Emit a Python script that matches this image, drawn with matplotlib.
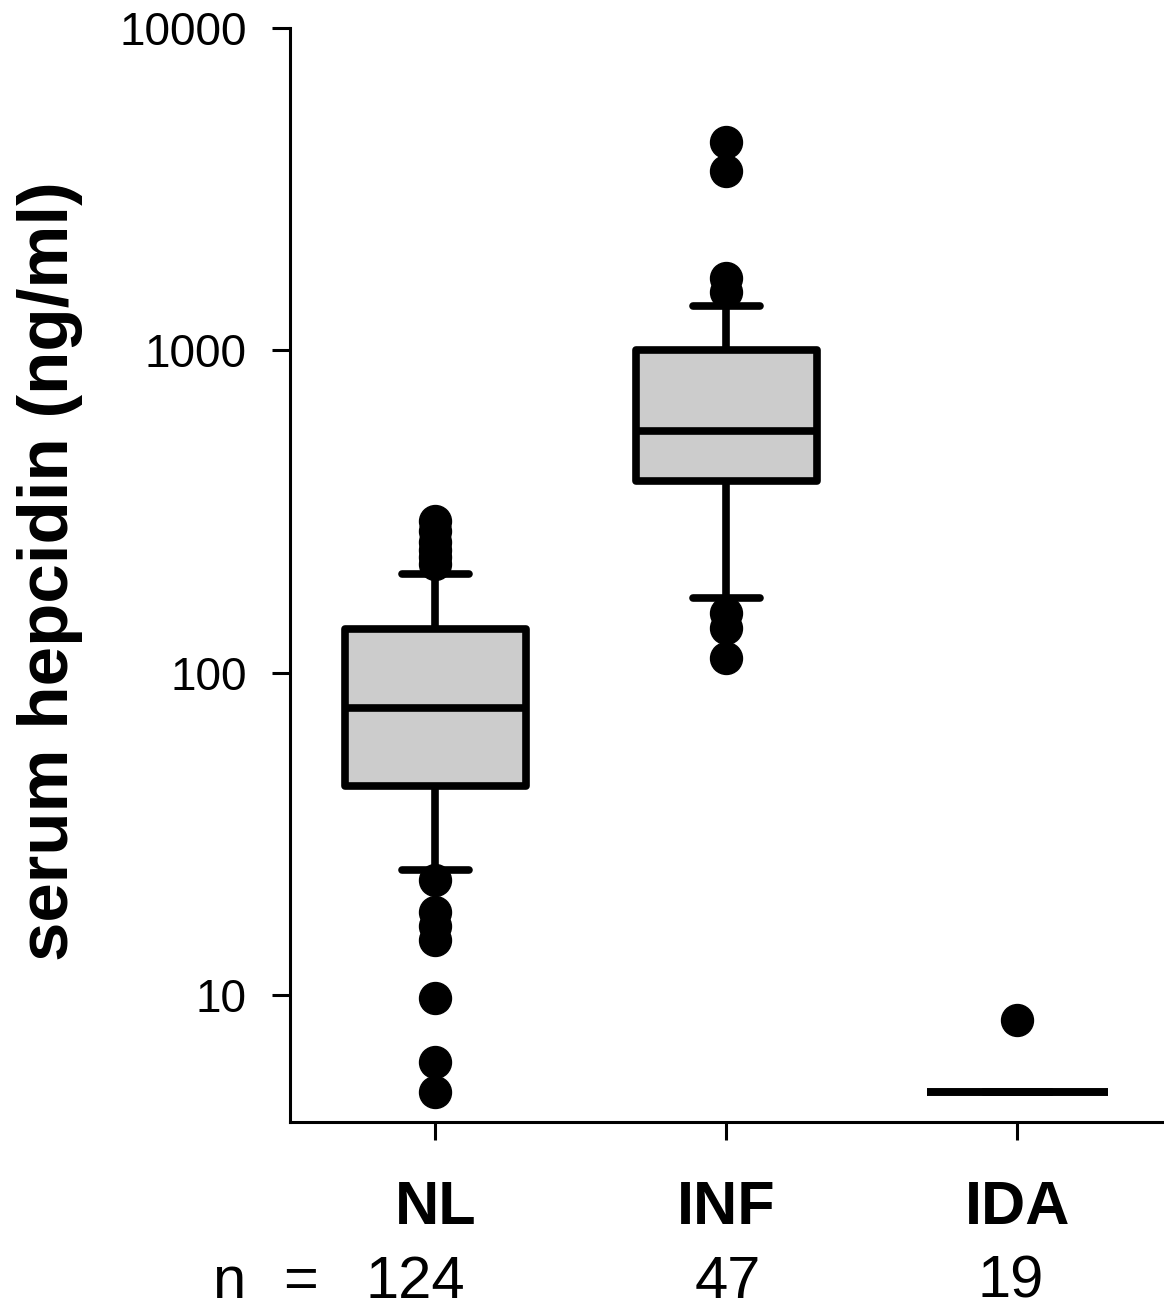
import matplotlib
matplotlib.use("Agg")
import matplotlib.pyplot as plt
from matplotlib.ticker import FixedLocator, NullLocator, FixedFormatter

# groups and counts
groups = ["NL", "INF", "IDA"]
counts = ["124", "47", "19"]

# box statistics (ng/ml)
q1 = [44.6, 394, 5.0]
medians = [77.8, 563, 5.0]
q3 = [137, 1000, 5.0]
whisker_lo = [24.5, 171, 5.0]
whisker_hi = [203, 1369, 5.0]

# outliers
nl_fliers = [296, 275, 255, 240, 228, 218, 22.8, 18.1, 16.4, 14.8, 9.8, 6.2, 5.0]
inf_fliers = [4443, 3614, 1672, 1513, 153, 138, 111]
ida_fliers = [8.36]

y_ticks = [10, 100, 1000, 10000]

plt.rcParams['font.family'] = ['Liberation Sans', 'DejaVu Sans']

fig = plt.figure(figsize=(11.64, 13.12), dpi=100)
ax = fig.add_axes([0.2491, 0.1448, 0.75, 0.8338])

stats = []
for i, fl in enumerate([nl_fliers, inf_fliers, ida_fliers]):
    stats.append(dict(med=medians[i], q1=q1[i], q3=q3[i],
                      whislo=whisker_lo[i], whishi=whisker_hi[i],
                      fliers=fl, label=groups[i]))

lw = 5.5
ax.bxp(stats, positions=[1, 2, 3], widths=0.62, capwidths=0.23,
       patch_artist=True,
       boxprops=dict(facecolor="#cccccc", edgecolor="black", linewidth=lw,
                     joinstyle="round"),
       medianprops=dict(color="black", linewidth=lw, solid_capstyle="butt"),
       whiskerprops=dict(color="black", linewidth=lw, solid_capstyle="butt"),
       capprops=dict(color="black", linewidth=lw, solid_capstyle="round"),
       flierprops=dict(marker="o", markerfacecolor="black",
                       markeredgecolor="black", markersize=23, linestyle="none"))

ax.set_yscale("log")
ax.set_ylim(4.04, 10000)
ax.set_xlim(0.5, 3.5)

ax.yaxis.set_major_locator(FixedLocator(y_ticks))
ax.yaxis.set_major_formatter(FixedFormatter([str(t) for t in y_ticks]))
ax.yaxis.set_minor_locator(NullLocator())

ax.set_xticks([1, 2, 3])
ax.set_xticklabels(groups, fontsize=44, fontweight="bold")

for side in ["top", "right"]:
    ax.spines[side].set_visible(False)
for side in ["left", "bottom"]:
    ax.spines[side].set_linewidth(2.2)

ax.tick_params(axis="y", length=13, width=2.2, pad=18, labelsize=33)
ax.tick_params(axis="x", length=13, width=2.2, pad=29)

fig.text(50 / 1164, 1 - 571 / 1312, "serum hepcidin (ng/ml)",
         rotation=90, ha="center", va="center", fontsize=51, fontweight="bold")

# sample size row
base_y = 2 / 1312
fig.text(229 / 1164, base_y, "n", ha="center", va="bottom", fontsize=43)
fig.text(301 / 1164, base_y, "=", ha="center", va="bottom", fontsize=43)
for xpix, c in zip([415, 728, 1011], counts):
    fig.text(xpix / 1164, base_y, c, ha="center", va="bottom", fontsize=43)

fig.savefig("out.png", dpi=100)
